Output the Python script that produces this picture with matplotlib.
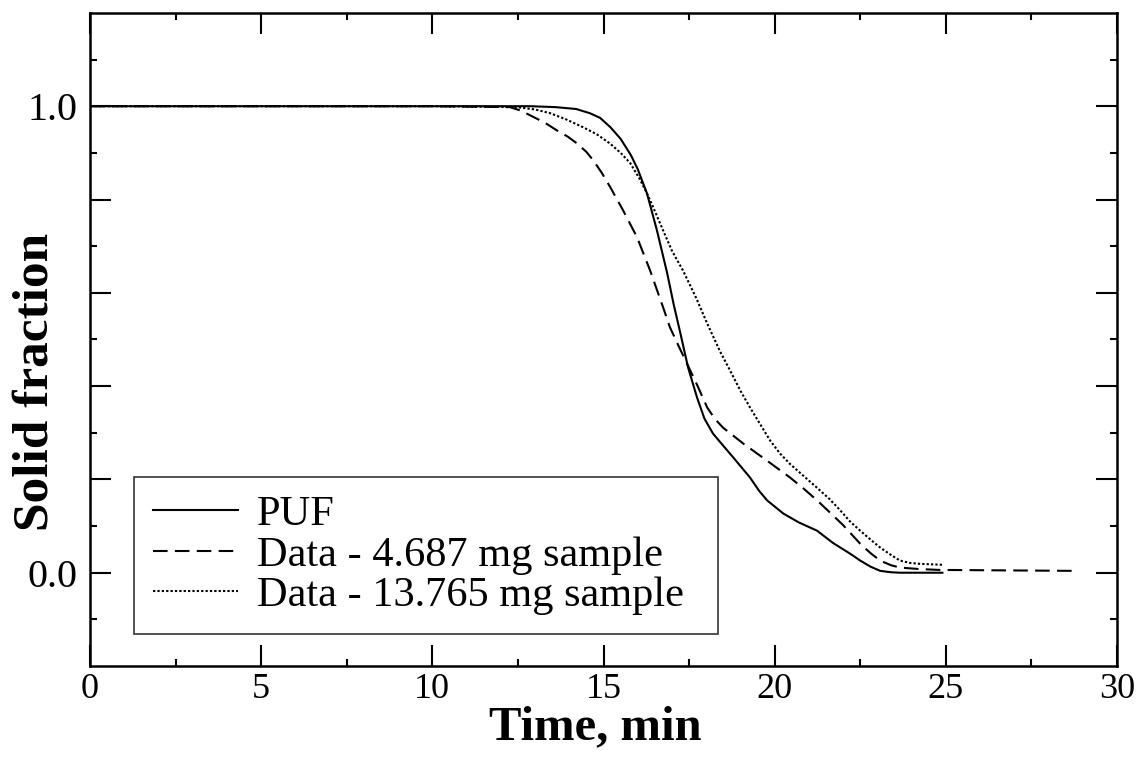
import matplotlib
matplotlib.use("Agg")
import matplotlib.pyplot as plt

plt.rcParams['font.family'] = ['Liberation Serif', 'DejaVu Serif']

# PUF model curve
puf_t = [0, 10, 12, 12.85, 13.6, 14.2, 14.6, 14.9, 15.2, 15.5, 15.8, 16.0, 16.27,
         16.56, 16.86, 17.05, 17.24, 17.47, 17.73, 17.95, 18.2, 18.5, 18.79, 19.28,
         19.55, 19.78, 20.25, 20.7, 21.24, 21.7, 22.2, 22.5, 22.8, 23.08, 23.4,
         23.66, 24.9]
puf_f = [1.0, 1.0, 1.0, 1.0, 0.998, 0.994, 0.985, 0.975, 0.955, 0.93, 0.895, 0.865,
         0.813, 0.734, 0.642, 0.575, 0.515, 0.44, 0.376, 0.33, 0.298, 0.272, 0.247,
         0.204, 0.175, 0.155, 0.127, 0.108, 0.09, 0.064, 0.041, 0.026, 0.013, 0.004,
         0.001, 0.0, 0.0]

# measured, 4.687 mg sample
d1_t = [0, 10, 12.27, 12.6, 12.95, 13.3, 13.64, 13.95, 14.23, 14.5, 14.7, 14.95,
        15.2, 15.57, 15.98, 16.36, 16.74, 16.94, 17.2, 17.44, 17.75, 18.03, 18.25,
        18.49, 19.08, 19.78, 20.45, 20.85, 21.24, 21.6, 22.0, 22.5, 22.8, 23.08,
        23.4, 23.66, 24.2, 24.8, 28.7]
d1_f = [1.0, 1.0, 0.998, 0.99, 0.977, 0.964, 0.948, 0.935, 0.92, 0.902, 0.884, 0.857,
        0.826, 0.777, 0.719, 0.648, 0.569, 0.526, 0.485, 0.448, 0.4, 0.354, 0.33,
        0.311, 0.277, 0.24, 0.204, 0.18, 0.155, 0.13, 0.102, 0.062, 0.042, 0.026,
        0.016, 0.011, 0.008, 0.006, 0.004]

# measured, 13.765 mg sample
d2_t = [0, 10, 12.47, 13.0, 13.44, 13.9, 14.4, 14.8, 15.19, 15.5, 15.78, 16.05,
        16.27, 16.5, 16.74, 17.0, 17.32, 17.7, 18.03, 18.4, 18.7, 19.0, 19.28,
        19.58, 19.87, 20.15, 20.45, 20.85, 21.24, 21.6, 21.9, 22.2, 22.5, 22.8,
        23.08, 23.4, 23.66, 23.95, 24.25, 24.9]
d2_f = [1.0, 1.0, 0.998, 0.993, 0.985, 0.972, 0.955, 0.94, 0.92, 0.9, 0.878, 0.845,
        0.813, 0.775, 0.734, 0.69, 0.648, 0.59, 0.534, 0.475, 0.433, 0.39, 0.354,
        0.318, 0.283, 0.256, 0.233, 0.207, 0.182, 0.158, 0.135, 0.11, 0.09, 0.071,
        0.054, 0.038, 0.026, 0.021, 0.019, 0.017]

labels = ["PUF", "Data - 4.687 mg sample", "Data - 13.765 mg sample"]

fig = plt.figure(figsize=(11.37, 7.63), dpi=100)
ax = fig.add_axes([0.0792, 0.1271, 0.9032, 0.856])

ax.plot(puf_t, puf_f, color='black', lw=1.5, ls='-', label=labels[0])
ax.plot(d1_t, d1_f, color='black', lw=1.5, ls=(0, (7, 3.5)), label=labels[1])
ax.plot(d2_t, d2_f, color='black', lw=1.5, ls=(0, (1.1, 1.0)), label=labels[2])

ax.set_xlim(0, 30)
ax.set_ylim(-0.2, 1.2)
ax.set_xticks([0, 5, 10, 15, 20, 25, 30])
ax.set_xticks([2.5, 7.5, 12.5, 17.5, 22.5, 27.5], minor=True)
ax.set_yticks([0.0, 0.2, 0.4, 0.6, 0.8, 1.0])
ax.set_yticklabels(["0.0", "", "", "", "", "1.0"])
ax.set_yticks([-0.1, 0.1, 0.3, 0.5, 0.7, 0.9, 1.1], minor=True)
ax.tick_params(which='both', direction='in', top=True, right=True, width=1.5)
ax.tick_params(which='major', length=15)
ax.tick_params(which='minor', length=5)
ax.tick_params(axis='x', which='major', labelsize=26, pad=5)
ax.tick_params(axis='y', which='major', labelsize=29, pad=9)
for s in ax.spines.values():
    s.set_linewidth(1.8)

ax.set_xlabel("Time, min", fontsize=35, fontweight='bold')
ax.set_ylabel("Solid fraction", fontsize=37, fontweight='bold')
ax.xaxis.set_label_coords(0.492, -0.060)
ax.yaxis.set_label_coords(-0.031, 0.435)

leg = ax.legend(loc='lower left', bbox_to_anchor=(0.0428, 0.049, 0.5686, 0.25),
                mode='expand', borderaxespad=0,
                fontsize=30.5, frameon=True, fancybox=False, edgecolor='black',
                handlelength=2.0, handletextpad=0.45, labelspacing=0.04,
                borderpad=0.45)
leg.get_frame().set_linewidth(1.2)

fig.savefig("out.png", dpi=100)
